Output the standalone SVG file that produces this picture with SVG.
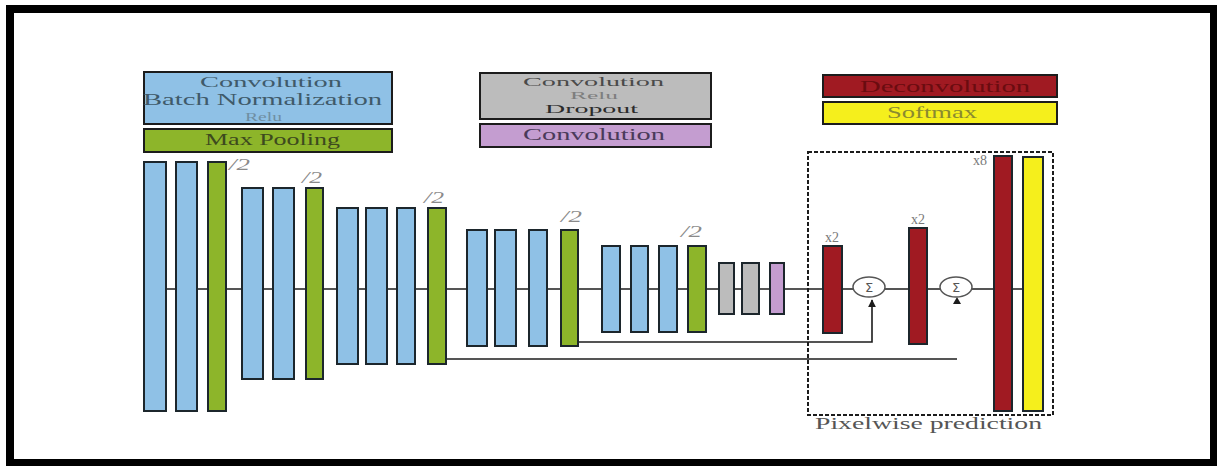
<svg xmlns="http://www.w3.org/2000/svg" width="1217" height="466" viewBox="0 0 1217 466">
<style>
.bar{stroke:#1c262c;stroke-width:2}
.blue{fill:#8fc1e6}
.green{fill:#8db52a}
.gray{fill:#bcbcbc}
.purple{fill:#c49dd0}
.red{fill:#a01a22}
.yellow{fill:#f5ef1c}
.lg{stroke:#1c1c1c;stroke-width:2}
.t{font-family:"Liberation Serif",serif;font-size:16px}
.half{font-family:"Liberation Serif",serif;font-size:17px;font-style:italic;fill:#8a8a8a}
.mult{font-family:"Liberation Serif",serif;font-size:14px;fill:#7a7a7a}
.line{stroke:#1c1c1c;stroke-width:1.6;fill:none}
</style>
<defs>
<marker id="ah" viewBox="0 0 10 10" refX="9" refY="5" markerWidth="5" markerHeight="5" orient="auto">
<path d="M0,0 L10,5 L0,10 z" fill="#1c1c1c"/>
</marker>
</defs>
<rect x="0" y="0" width="1217" height="466" fill="#ffffff"/>
<!-- frame -->
<g id="frame" fill="#000">
<rect x="6" y="5" width="1211" height="8"/>
<rect x="6" y="5" width="8" height="461"/>
<rect x="1210" y="5" width="7" height="461"/>
<rect x="6" y="459" width="1211" height="7"/>
</g>
<!-- legend -->
<g id="legend-conv-bn-relu">
<rect class="lg blue" x="144" y="72" width="248" height="52"/>
<text class="t" x="200" y="87" style="font-size:15px" textLength="142" lengthAdjust="spacingAndGlyphs" fill="#3f5a6a">Convolution</text>
<text class="t" x="143" y="105" textLength="239" lengthAdjust="spacingAndGlyphs" fill="#3f5a6a">Batch Normalization</text>
<text class="t" x="245" y="121" style="font-size:13px" textLength="37" lengthAdjust="spacingAndGlyphs" fill="#6f8fa3">Relu</text>
</g>
<g id="legend-maxpool">
<rect class="lg green" x="144" y="129" width="248" height="23"/>
<text class="t" x="205" y="145" textLength="135" lengthAdjust="spacingAndGlyphs" fill="#3d4a1e">Max Pooling</text>
</g>
<g id="legend-conv-relu-dropout">
<rect class="lg gray" x="480" y="73" width="231" height="46"/>
<text class="t" x="523" y="86" style="font-size:13px" textLength="141" lengthAdjust="spacingAndGlyphs" fill="#4a4a4a">Convolution</text>
<text class="t" x="570" y="99" style="font-size:11px" textLength="48" lengthAdjust="spacingAndGlyphs" fill="#7e7e7e">Relu</text>
<text class="t" x="545" y="113" style="font-size:13px" textLength="93" lengthAdjust="spacingAndGlyphs" fill="#2c2c2c">Dropout</text>
</g>
<g id="legend-conv">
<rect class="lg purple" x="480" y="124" width="231" height="23"/>
<text class="t" x="523" y="140" textLength="142" lengthAdjust="spacingAndGlyphs" fill="#4a3a5a">Convolution</text>
</g>
<g id="legend-deconv">
<rect class="lg red" x="823" y="75" width="234" height="22"/>
<text class="t" x="860" y="92" textLength="170" lengthAdjust="spacingAndGlyphs" fill="#6a0c10">Deconvolution</text>
</g>
<g id="legend-softmax">
<rect class="lg yellow" x="823" y="102" width="234" height="22"/>
<text class="t" x="887" y="118" textLength="90" lengthAdjust="spacingAndGlyphs" fill="#8a8a30">Softmax</text>
</g>
<!-- connectors -->
<g id="connectors">
<line class="line" x1="155" y1="289" x2="1033" y2="289"/>
<polyline class="line" points="578,342 872,342 872,300" marker-end="url(#ah)"/>
<line class="line" x1="446" y1="359" x2="957" y2="359"/>
<path d="M953,304 L957,297 L961,304 z" fill="#1c1c1c"/>
</g>
<!-- encoder block 1 -->
<g id="block1">
<rect class="bar blue" x="144" y="162" width="22" height="249"/>
<rect class="bar blue" x="176" y="162" width="21" height="249"/>
<rect class="bar green" x="208" y="162" width="18" height="249"/>
<text class="half" x="229" y="170" textLength="21" lengthAdjust="spacingAndGlyphs">/2</text>
</g>
<g id="block2">
<rect class="bar blue" x="242" y="188" width="21" height="191"/>
<rect class="bar blue" x="273" y="188" width="21" height="191"/>
<rect class="bar green" x="306" y="188" width="17" height="191"/>
<text class="half" x="302" y="183" textLength="20" lengthAdjust="spacingAndGlyphs">/2</text>
</g>
<g id="block3">
<rect class="bar blue" x="337" y="208" width="21" height="156"/>
<rect class="bar blue" x="366" y="208" width="21" height="156"/>
<rect class="bar blue" x="397" y="208" width="18" height="156"/>
<rect class="bar green" x="428" y="208" width="18" height="156"/>
<text class="half" x="424" y="203" textLength="20" lengthAdjust="spacingAndGlyphs">/2</text>
</g>
<g id="block4">
<rect class="bar blue" x="467" y="230" width="20" height="116"/>
<rect class="bar blue" x="495" y="230" width="21" height="116"/>
<rect class="bar blue" x="529" y="230" width="18" height="116"/>
<rect class="bar green" x="561" y="230" width="17" height="116"/>
<text class="half" x="561" y="222" textLength="21" lengthAdjust="spacingAndGlyphs">/2</text>
</g>
<g id="block5">
<rect class="bar blue" x="602" y="246" width="18" height="86"/>
<rect class="bar blue" x="631" y="246" width="17" height="86"/>
<rect class="bar blue" x="659" y="246" width="18" height="86"/>
<rect class="bar green" x="688" y="246" width="18" height="86"/>
<text class="half" x="681" y="237" textLength="21" lengthAdjust="spacingAndGlyphs">/2</text>
</g>
<g id="block6">
<rect class="bar gray" x="719" y="263" width="15" height="51"/>
<rect class="bar gray" x="742" y="263" width="17" height="51"/>
<rect class="bar purple" x="770" y="263" width="14" height="51"/>
</g>
<!-- decoder -->
<g id="pixelwise-box">
<rect x="808" y="152" width="245" height="263" fill="none" stroke="#1c1c1c" stroke-width="2" stroke-dasharray="4 2"/>
<text class="t" x="815" y="429" textLength="227" lengthAdjust="spacingAndGlyphs" fill="#555555">Pixelwise prediction</text>
</g>
<g id="deconv1">
<rect class="bar red" x="823" y="246" width="19" height="87"/>
<text class="mult" x="832" y="242" text-anchor="middle">x2</text>
</g>
<g id="sum1">
<ellipse cx="869" cy="287" rx="16" ry="10" fill="#fff" stroke="#555" stroke-width="1.5"/>
<text x="869" y="292" text-anchor="middle" font-family="DejaVu Sans,sans-serif" font-size="13" fill="#555">Σ</text>
</g>
<g id="deconv2">
<rect class="bar red" x="909" y="228" width="18" height="116"/>
<text class="mult" x="918" y="224" text-anchor="middle">x2</text>
</g>
<g id="sum2">
<ellipse cx="956" cy="287" rx="16" ry="10" fill="#fff" stroke="#555" stroke-width="1.5"/>
<text x="956" y="292" text-anchor="middle" font-family="DejaVu Sans,sans-serif" font-size="13" fill="#555">Σ</text>
</g>
<g id="deconv3">
<rect class="bar red" x="994" y="156" width="18" height="255"/>
<text class="mult" x="987" y="165" text-anchor="end">x8</text>
</g>
<g id="softmax">
<rect class="bar yellow" x="1023" y="157" width="20" height="254"/>
</g>
</svg>
